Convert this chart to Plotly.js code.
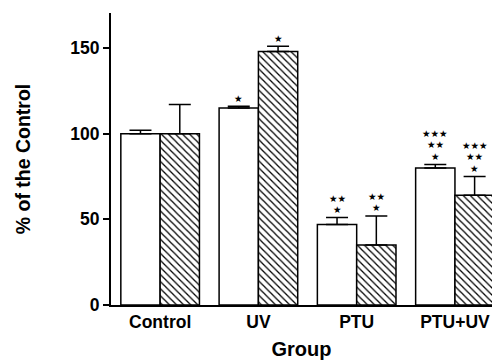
<!DOCTYPE html>
<html><head><meta charset="utf-8">
<script src="https://cdn.plot.ly/plotly-3.0.1.min.js"></script>
<style>html,body{margin:0;padding:0;background:#fff}#g{width:492px;height:360px}</style>
</head><body><div id="g"></div>
<script>
const groups = ["Control", "UV", "PTU", "PTU+UV"];
const seriesA = [100, 115, 47, 80];      // open bars
const errA = [2, 1, 4, 2];
const seriesB = [100, 148, 35, 64];      // hatched bars
const errB = [17, 3, 17, 11];
const sigA = [[], ["★"], ["★", "★★"], ["★", "★★", "★★★"]];
const sigB = [[], ["★"], ["★", "★★"], ["★", "★★", "★★★"]];

const F = "Liberation Sans, Arial, sans-serif";
const tA = {
  type: "bar", x: groups, y: seriesA, name: "A",
  marker: {color: "#fff", line: {color: "#000", width: 1.5}},
  error_y: {type: "data", symmetric: false, array: errA, arrayminus: errA.map(() => 0), color: "#000", thickness: 1.5, width: 11}
};
const tB = {
  type: "bar", x: groups, y: seriesB, name: "B",
  marker: {color: "#fff", line: {color: "#000", width: 1.5},
    pattern: {shape: "\\", fgcolor: "#000", bgcolor: "#fff", size: 5, solidity: 0.25}},
  error_y: {type: "data", symmetric: false, array: errB, arrayminus: errB.map(() => 0), color: "#000", thickness: 1.5, width: 11}
};

const ann = [];
function addSig(sig, vals, errs, off) {
  sig.forEach((lines, i) => {
    lines.forEach((s, k) => {
      ann.push({x: i + off, y: vals[i] + errs[i], xref: "x", yref: "y", text: s, showarrow: false,
        yanchor: "middle", yshift: 8 + 11.5 * k, font: {family: "DejaVu Sans", size: 9.5, color: "#000"}});
    });
  });
}
addSig(sigA, seriesA, errA, -0.2);
addSig(sigB, seriesB, errB, 0.2);

const layout = {
  width: 492, height: 360,
  margin: {l: 111, r: 0, t: 13, b: 55},
  paper_bgcolor: "#fff", plot_bgcolor: "#fff",
  barmode: "group", bargap: 0.2, bargroupgap: 0,
  showlegend: false,
  font: {family: F, color: "#000"},
  xaxis: {type: "category", range: [-0.5, 3.377], showline: true, linecolor: "#000", linewidth: 2,
    ticks: "", showgrid: false, zeroline: false,
    tickfont: {family: F, size: 17.5, weight: "bold"},
    title: {text: "<b>Group</b>", font: {family: F, size: 20}, standoff: 15}},
  yaxis: {range: [0, 170.4], showline: true, linecolor: "#000", linewidth: 2, ticks: "outside", ticklen: 6,
    tickwidth: 2, tickcolor: "#000", tickvals: [0, 50, 100, 150], showgrid: false, zeroline: false,
    tickfont: {family: F, size: 17.5, weight: "bold"},
    title: {text: "<b>% of the Control</b>", font: {family: F, size: 19.5}, standoff: 34}},
  annotations: ann
};
Plotly.newPlot("g", [tA, tB], layout, {staticPlot: true, displayModeBar: false});
</script></body></html>
